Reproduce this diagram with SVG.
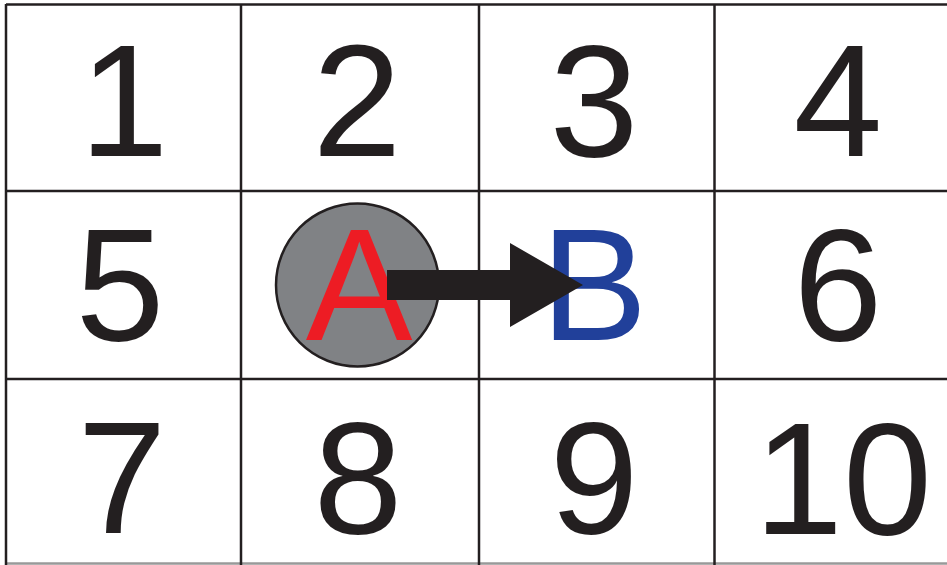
<svg xmlns="http://www.w3.org/2000/svg" width="947" height="565" viewBox="0 0 947 565">
<style>
.grid{stroke:#231f20;stroke-width:2.5;fill:none}
.num{font-family:"Liberation Sans",Arial,sans-serif;font-size:160px;fill:#231f20;text-anchor:middle}
.lbl{font-family:"Liberation Sans",Arial,sans-serif;font-size:160px;text-anchor:middle}
</style>
<rect width="947" height="565" fill="#ffffff"/>
<g id="grid" class="grid">
<line x1="6" y1="4.5" x2="947" y2="4.5"/>
<line x1="6" y1="191" x2="947" y2="191"/>
<line x1="6" y1="379" x2="947" y2="379"/>
<line x1="6" y1="563.5" x2="947" y2="563.5" stroke="#999"/>
<line x1="6" y1="4" x2="6" y2="565"/>
<line x1="241" y1="4" x2="241" y2="565"/>
<line x1="479" y1="4" x2="479" y2="565"/>
<line x1="714.5" y1="4" x2="714.5" y2="565"/>
</g>
<g id="cells">
<text class="num" x="124" y="156">1</text>
<text class="num" x="357" y="156">2</text>
<text class="num" x="594" y="156">3</text>
<text class="num" x="838" y="156">4</text>
<text class="num" x="120" y="340">5</text>
<text class="num" x="838" y="340">6</text>
<text class="num" x="122" y="533">7</text>
<text class="num" x="358" y="533">8</text>
<text class="num" x="594" y="533">9</text>
<text class="num" x="843" y="534">10</text>
</g>
<g id="nodeA">
<circle cx="357.5" cy="285" r="81.5" fill="#808285" stroke="#231f20" stroke-width="2.5"/>
<text class="lbl" x="359" y="340" fill="#ed1c24">A</text>
</g>
<g id="nodeB">
<text class="lbl" x="594" y="340" fill="#21409a">B</text>
</g>
<g id="connectors">
<polygon points="387,270 510,270 510,243 583,285 510,327 510,300 387,300" fill="#231f20"/>
</g>
</svg>
